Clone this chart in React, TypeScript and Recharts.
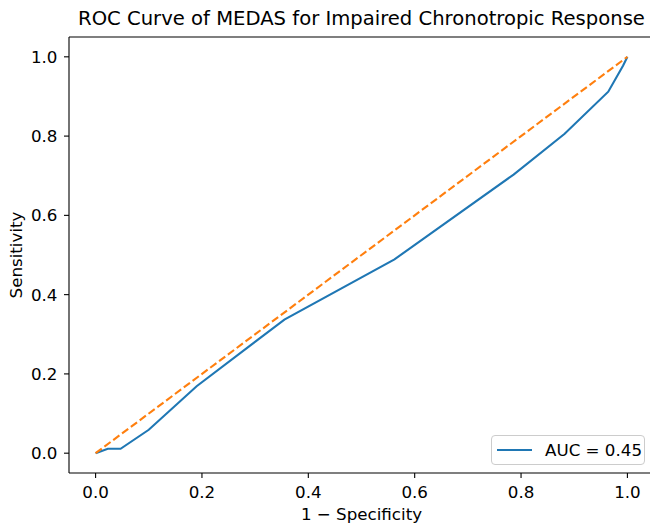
import React from "react";
import {
  LineChart,
  Line,
  XAxis,
  YAxis,
  Legend,
  ReferenceLine,
} from "recharts";

// ROC points
const fpr = [0, 0.023, 0.047, 0.1, 0.19, 0.355, 0.562, 0.786, 0.882, 0.964, 0.992, 1.0];
const tpr = [0, 0.011, 0.011, 0.059, 0.169, 0.337, 0.489, 0.703, 0.806, 0.912, 0.978, 1.0];
const chanceX = [0, 1];
const chanceY = [0, 1];
const axisTicks = [0, 0.2, 0.4, 0.6, 0.8, 1.0];
const axisDomain: [number, number] = [-0.05, 1.05];
const aucLabel = "AUC = 0.45";

const rocData = fpr.map((x, i) => ({ x, y: tpr[i] }));
const chanceData = chanceX.map((x, i) => ({ x, y: chanceY[i] }));

const FONT = "DejaVu Sans";
const FS = 16.7;
const BLUE = "#1f77b4";
const ORANGE = "#ff7f0e";

const fmt = (v: number) => v.toFixed(1);

function YLabel(props: any) {
  const vb = props.viewBox || {};
  const cx = (vb.x ?? 0) + 22;
  const cy = (vb.y ?? 0) + (vb.height ?? 0) / 2;
  return (
    <text
      x={cx}
      y={cy}
      transform={`rotate(-90, ${cx}, ${cy})`}
      textAnchor="middle"
      fontFamily={FONT}
      fontSize={FS}
      fill="#000"
    >
      Sensitivity
    </text>
  );
}

function XLabel(props: any) {
  const vb = props.viewBox || {};
  const cx = (vb.x ?? 0) + (vb.width ?? 0) / 2;
  return (
    <text
      x={cx}
      y={520}
      textAnchor="middle"
      fontFamily={FONT}
      fontSize={FS}
      fill="#000"
    >
      1 − Specificity
    </text>
  );
}

function LegendBox({ payload }: any) {
  const items = (payload || []).filter((p: any) => p.type !== "none");
  return (
    <div
      style={{
        boxSizing: "border-box",
        width: 154,
        height: 30,
        border: "1px solid #cccccc",
        borderRadius: 4,
        background: "rgba(255,255,255,0.8)",
        padding: "0 0 0 5px",
        fontFamily: FONT,
        fontSize: FS,
        display: "flex",
        alignItems: "center",
      }}
    >
      {items.map((it: any) => (
        <div key={it.value} style={{ display: "flex", alignItems: "center" }}>
          <svg width={35} height={20} style={{ marginRight: 13 }}>
            <line x1={0} y1={10} x2={35} y2={10} stroke={it.color} strokeWidth={2.1} />
          </svg>
          <span>{it.value}</span>
        </div>
      ))}
    </div>
  );
}

export default function App() {
  return (
    <div
      style={{
        position: "absolute",
        left: 0,
        top: 0,
        width: 650,
        height: 525,
        overflow: "hidden",
        background: "#fff",
      }}
    >
      <svg
        width={650}
        height={40}
        style={{ position: "absolute", left: 0, top: 0, pointerEvents: "none" }}
      >
        <text x={361.5} y={25} textAnchor="middle" fontFamily={FONT} fontSize={19.6} fill="#000">
          ROC Curve of MEDAS for Impaired Chronotropic Response
        </text>
      </svg>
      <LineChart
        width={660}
        height={525}
        margin={{ top: 37, right: 6, bottom: 0, left: 0 }}
        style={{ fontFamily: FONT }}
      >
        <XAxis
          dataKey="x"
          type="number"
          domain={axisDomain}
          ticks={axisTicks}
          tickFormatter={fmt}
          allowDataOverflow
          height={52}
          stroke="#000"
          strokeWidth={1.1}
          tickSize={5}
          tickMargin={8}
          tick={{ fill: "#000", fontSize: FS, fontFamily: FONT }}
          label={<XLabel />}
        />
        <YAxis
          dataKey="y"
          type="number"
          domain={axisDomain}
          ticks={axisTicks}
          tickFormatter={fmt}
          allowDataOverflow
          width={69}
          stroke="#000"
          strokeWidth={1.1}
          tickSize={5}
          tickMargin={6.5}
          tick={{ fill: "#000", fontSize: FS, fontFamily: FONT }}
          label={<YLabel />}
        />
        <ReferenceLine y={axisDomain[1]} stroke="#000" strokeWidth={1.1} ifOverflow="visible" />
        <ReferenceLine x={axisDomain[1]} stroke="#000" strokeWidth={1.1} ifOverflow="visible" />
        <Line
          data={rocData}
          dataKey="y"
          name={aucLabel}
          type="linear"
          stroke={BLUE}
          strokeWidth={2.1}
          dot={false}
          activeDot={false}
          isAnimationActive={false}
        />
        <Line
          data={chanceData}
          dataKey="y"
          name="chance"
          type="linear"
          stroke={ORANGE}
          strokeWidth={2.1}
          strokeDasharray="7.7 3.3"
          dot={false}
          activeDot={false}
          legendType="none"
          isAnimationActive={false}
        />
        <Legend
          layout="vertical"
          align="center"
          verticalAlign="middle"
          content={<LegendBox />}
          wrapperStyle={{ left: 491, top: 435, width: "auto", height: "auto" }}
        />
      </LineChart>
    </div>
  );
}
